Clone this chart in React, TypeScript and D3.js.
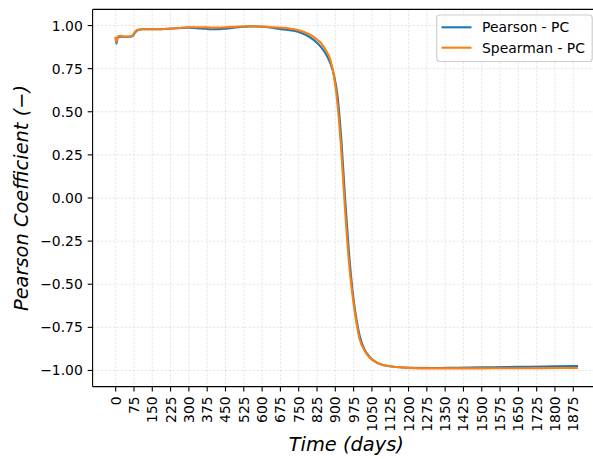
import React from "react";
import * as d3 from "d3";

// Sampling days shared by both correlation series
const days = [
  0, 3, 8, 20, 40, 60, 70, 80, 90, 110, 150, 200, 250, 300, 350, 400, 450, 500,
  550, 600, 650, 700, 750, 780, 810, 840, 860, 880, 895, 910, 925, 940, 955, 970,
  985, 1000, 1020, 1040, 1070, 1100, 1150, 1200, 1300, 1400, 1500, 1600, 1700,
  1800, 1890,
];

const pearsonPC = [
  0.925, 0.895, 0.93, 0.935, 0.935, 0.935, 0.94, 0.96, 0.973, 0.978, 0.978, 0.98,
  0.984, 0.988, 0.983, 0.978, 0.982, 0.99, 0.995, 0.993, 0.985, 0.975, 0.962,
  0.945, 0.918, 0.878, 0.838, 0.78, 0.71, 0.58, 0.33, 0.0, -0.3, -0.53, -0.69,
  -0.8, -0.88, -0.92, -0.955, -0.97, -0.98, -0.985, -0.986, -0.984, -0.982,
  -0.98, -0.978, -0.976, -0.974,
];

const spearmanPC = [
  0.93, 0.905, 0.935, 0.94, 0.935, 0.938, 0.945, 0.965, 0.975, 0.978, 0.978,
  0.98, 0.984, 0.99, 0.99, 0.988, 0.99, 0.994, 0.996, 0.995, 0.99, 0.985, 0.973,
  0.958, 0.935, 0.9, 0.86, 0.8, 0.7, 0.53, 0.26, -0.07, -0.36, -0.56, -0.71,
  -0.82, -0.885, -0.925, -0.955, -0.97, -0.98, -0.985, -0.988, -0.988, -0.988,
  -0.987, -0.987, -0.986, -0.986,
];

const xTicks = d3.range(0, 1876, 75);
const yTicks = [-1.0, -0.75, -0.5, -0.25, 0.0, 0.25, 0.5, 0.75, 1.0];

const seriesNames = ["Pearson - PC", "Spearman - PC"];
const seriesColors = ["#1f77b4", "#ff7f0e"];

const W = 593;
const H = 459;
const left = 92.6;
const right = 600;
const top = 9.4;
const bottom = 386.6;
const font = "DejaVu Sans, sans-serif";

export default function App() {
  const x = d3.scaleLinear().domain([-94.5, 1984.5]).range([left, right]);
  const y = d3.scaleLinear().domain([-1.0935, 1.0935]).range([bottom, top]);

  const line = d3
    .line<[number, number]>()
    .x((d) => x(d[0]))
    .y((d) => y(d[1]))
    .curve(d3.curveMonotoneX);

  const series = [pearsonPC, spearmanPC].map((vals) =>
    days.map((d, i) => [d, vals[i]] as [number, number])
  );

  const fmtY = (v: number) => v.toFixed(2).replace("-", "\u2212");

  return (
    <svg
      width={W}
      height={H}
      style={{ position: "absolute", left: 0, top: 0, background: "#fff" }}
      fontFamily={font}
    >
      <defs>
        <clipPath id="plot-clip">
          <rect x={left} y={top} width={right - left} height={bottom - top} />
        </clipPath>
      </defs>
      <rect x={0} y={0} width={W} height={H} fill="#fff" />

      {/* grid */}
      <g stroke="#b0b0b0" strokeOpacity={0.35} strokeWidth={0.9} strokeDasharray="2.5,1.5">
        {xTicks.map((t) => (
          <line key={"gx" + t} x1={x(t)} x2={x(t)} y1={top} y2={bottom} />
        ))}
        {yTicks.map((t) => (
          <line key={"gy" + t} x1={left} x2={right} y1={y(t)} y2={y(t)} />
        ))}
      </g>

      {/* series */}
      <g clipPath="url(#plot-clip)" fill="none" strokeWidth={2.1} strokeLinejoin="round" strokeLinecap="square">
        {series.map((s, i) => (
          <path key={seriesNames[i]} d={line(s) ?? ""} stroke={seriesColors[i]} />
        ))}
      </g>

      {/* spines */}
      <g stroke="#000" strokeWidth={1.1} fill="none">
        <line x1={left} x2={left} y1={top} y2={bottom} />
        <line x1={right} x2={right} y1={top} y2={bottom} />
        <line x1={left} x2={right} y1={top} y2={top} />
        <line x1={left} x2={right} y1={bottom} y2={bottom} />
      </g>

      {/* y axis */}
      <g fontSize={13.9} fill="#000">
        {yTicks.map((t) => (
          <g key={"yt" + t}>
            <line x1={left - 4.9} x2={left} y1={y(t)} y2={y(t)} stroke="#000" strokeWidth={1.1} />
            <text x={left - 9.8} y={y(t)} textAnchor="end" dominantBaseline="central">
              {fmtY(t)}
            </text>
          </g>
        ))}
      </g>

      {/* x axis */}
      <g fontSize={13.9} fill="#000">
        {xTicks.map((t) => (
          <g key={"xt" + t}>
            <line x1={x(t)} x2={x(t)} y1={bottom} y2={bottom + 4.9} stroke="#000" strokeWidth={1.1} />
            <text
              transform={`translate(${x(t)},${bottom + 9.8}) rotate(-90)`}
              textAnchor="end"
              dominantBaseline="central"
            >
              {t}
            </text>
          </g>
        ))}
      </g>

      {/* axis labels */}
      <text
        x={(left + right) / 2}
        y={451}
        textAnchor="middle"
        fontSize={19.4}
        fontStyle="italic"
      >
        Time (days)
      </text>
      <text
        transform={`translate(28,${(top + bottom) / 2}) rotate(-90)`}
        textAnchor="middle"
        fontSize={19.4}
        fontStyle="italic"
      >
        Pearson Coefficient (−)
      </text>

      {/* legend */}
      <g>
        <rect
          x={436.7}
          y={15}
          width={155.5}
          height={46.5}
          rx={3}
          fill="#fff"
          fillOpacity={0.8}
          stroke="#cccccc"
          strokeWidth={1.1}
        />
        {seriesNames.map((name, i) => (
          <g key={"lg" + name}>
            <line
              x1={441.5}
              x2={471.5}
              y1={27.3 + i * 20.4}
              y2={27.3 + i * 20.4}
              stroke={seriesColors[i]}
              strokeWidth={2.1}
            />
            <text x={482} y={27.3 + i * 20.4} dominantBaseline="central" fontSize={13.9}>
              {name}
            </text>
          </g>
        ))}
      </g>
    </svg>
  );
}
